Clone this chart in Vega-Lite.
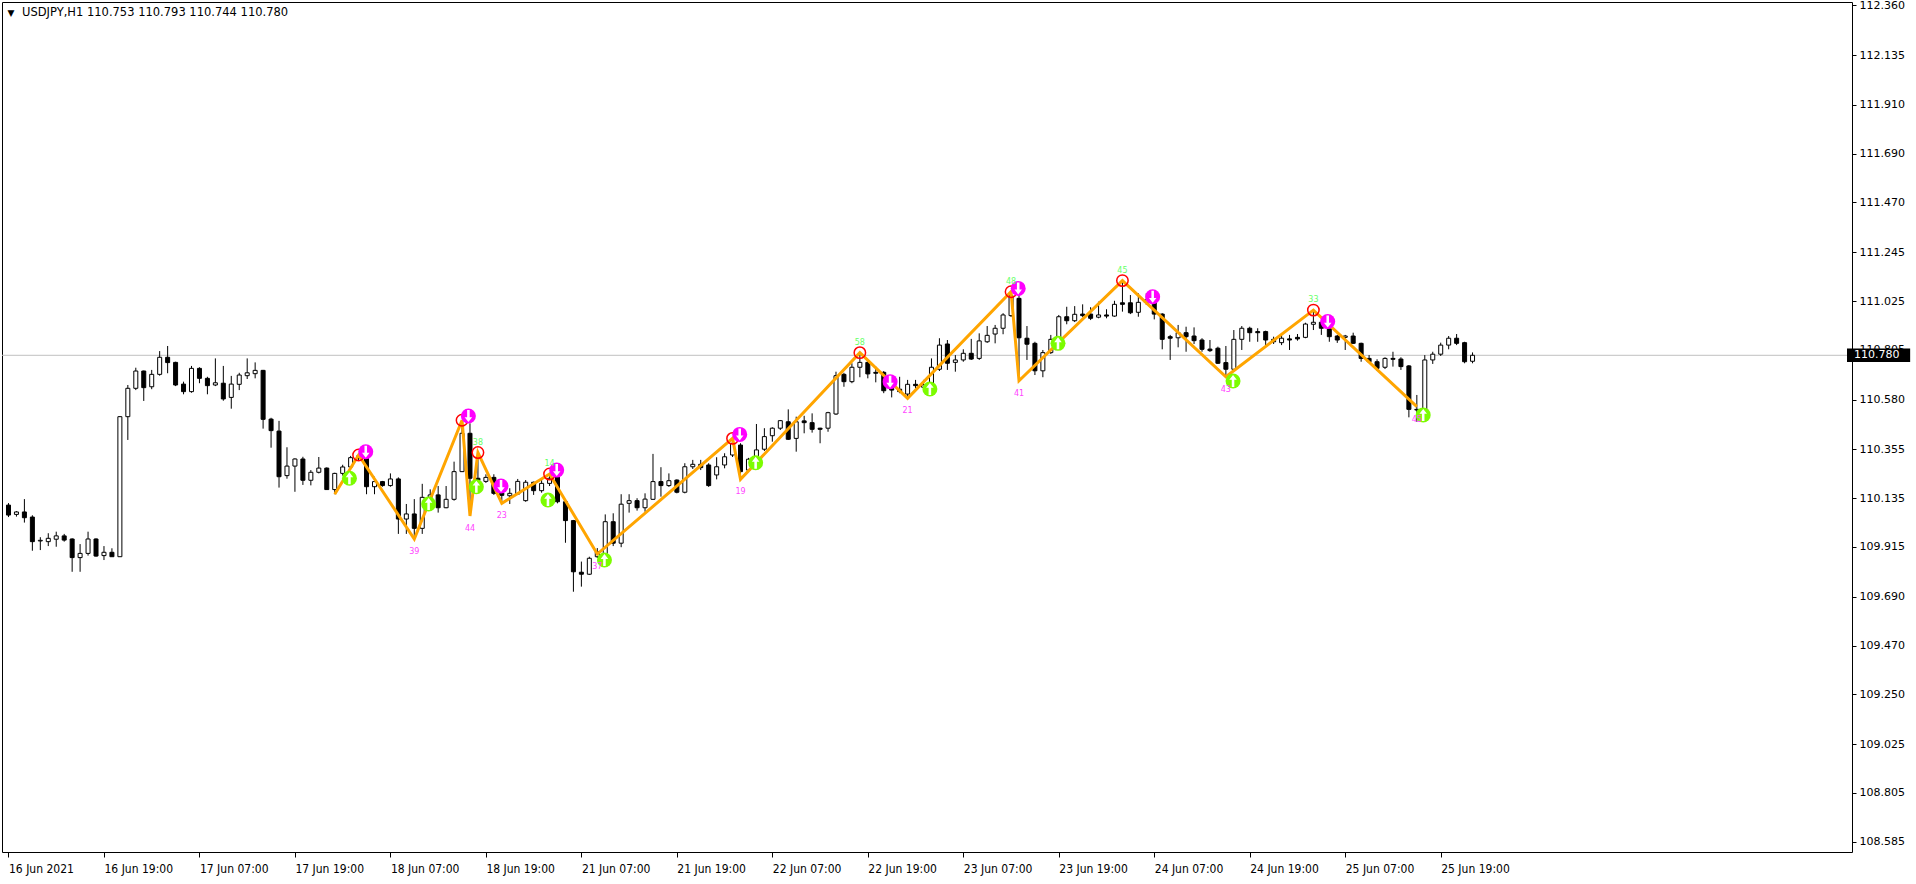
{
"$schema": "https://vega.github.io/schema/vega-lite/v6.json",
"width": 1850, "height": 850,
"autosize": {"type": "none"},
"padding": {"left": 2, "top": 2, "right": 64, "bottom": 32},
"background": "white",
"config": {
 "view": {"stroke": "black", "strokeWidth": 1},
 "axisX": {"labelFont": "DejaVu Sans Condensed", "labelFontSize": 12, "labelColor": "black", "tickColor": "black", "tickSize": 5, "domain": false, "grid": false, "labelAlign": "left", "labelPadding": 6, "labelBaseline": "top", "labelFlush": false, "labelOverlap": false, "labelBound": false},
 "axisY": {"labelFont": "DejaVu Sans", "labelFontSize": 11, "labelColor": "black", "tickColor": "black", "tickSize": 4, "domain": false, "grid": false, "labelPadding": 3, "labelBaseline": "middle", "labelOverlap": false, "labelBound": false, "labelFlush": false}
},
"datasets": {
 "candles": [
{"i":0,"o":110.104,"h":110.113,"l":110.050,"c":110.059},
{"i":1,"o":110.062,"h":110.077,"l":110.052,"c":110.073},
{"i":2,"o":110.073,"h":110.131,"l":110.025,"c":110.047},
{"i":3,"o":110.050,"h":110.058,"l":109.898,"c":109.939},
{"i":4,"o":109.942,"h":109.959,"l":109.901,"c":109.945},
{"i":5,"o":109.939,"h":109.977,"l":109.919,"c":109.954},
{"i":6,"o":109.950,"h":109.984,"l":109.916,"c":109.965},
{"i":7,"o":109.965,"h":109.974,"l":109.939,"c":109.946},
{"i":8,"o":109.951,"h":109.954,"l":109.803,"c":109.867},
{"i":9,"o":109.867,"h":109.928,"l":109.803,"c":109.886},
{"i":10,"o":109.886,"h":109.984,"l":109.876,"c":109.951},
{"i":11,"o":109.951,"h":109.954,"l":109.871,"c":109.874},
{"i":12,"o":109.876,"h":109.919,"l":109.856,"c":109.891},
{"i":13,"o":109.891,"h":109.909,"l":109.871,"c":109.871},
{"i":14,"o":109.871,"h":110.506,"l":109.870,"c":110.503},
{"i":15,"o":110.503,"h":110.646,"l":110.398,"c":110.631},
{"i":16,"o":110.631,"h":110.724,"l":110.623,"c":110.709},
{"i":17,"o":110.709,"h":110.711,"l":110.574,"c":110.634},
{"i":18,"o":110.638,"h":110.714,"l":110.627,"c":110.694},
{"i":19,"o":110.694,"h":110.799,"l":110.688,"c":110.771},
{"i":20,"o":110.771,"h":110.822,"l":110.699,"c":110.747},
{"i":21,"o":110.748,"h":110.751,"l":110.641,"c":110.646},
{"i":22,"o":110.650,"h":110.661,"l":110.604,"c":110.616},
{"i":23,"o":110.616,"h":110.732,"l":110.611,"c":110.721},
{"i":24,"o":110.721,"h":110.726,"l":110.654,"c":110.676},
{"i":25,"o":110.676,"h":110.683,"l":110.604,"c":110.643},
{"i":26,"o":110.646,"h":110.766,"l":110.641,"c":110.656},
{"i":27,"o":110.654,"h":110.732,"l":110.575,"c":110.583},
{"i":28,"o":110.590,"h":110.687,"l":110.539,"c":110.650},
{"i":29,"o":110.649,"h":110.701,"l":110.623,"c":110.691},
{"i":30,"o":110.688,"h":110.766,"l":110.673,"c":110.701},
{"i":31,"o":110.697,"h":110.748,"l":110.676,"c":110.712},
{"i":32,"o":110.712,"h":110.714,"l":110.449,"c":110.491},
{"i":33,"o":110.492,"h":110.498,"l":110.363,"c":110.440},
{"i":34,"o":110.438,"h":110.484,"l":110.183,"c":110.232},
{"i":35,"o":110.237,"h":110.365,"l":110.223,"c":110.280},
{"i":36,"o":110.280,"h":110.315,"l":110.164,"c":110.312},
{"i":37,"o":110.312,"h":110.322,"l":110.195,"c":110.216},
{"i":38,"o":110.216,"h":110.262,"l":110.193,"c":110.252},
{"i":39,"o":110.252,"h":110.321,"l":110.247,"c":110.271},
{"i":40,"o":110.271,"h":110.274,"l":110.174,"c":110.174},
{"i":41,"o":110.174,"h":110.250,"l":110.153,"c":110.247},
{"i":42,"o":110.247,"h":110.286,"l":110.237,"c":110.276},
{"i":43,"o":110.276,"h":110.326,"l":110.271,"c":110.318},
{"i":44,"o":110.318,"h":110.330,"l":110.305,"c":110.326},
{"i":45,"o":110.326,"h":110.328,"l":110.153,"c":110.187},
{"i":46,"o":110.187,"h":110.232,"l":110.153,"c":110.210},
{"i":47,"o":110.210,"h":110.213,"l":110.187,"c":110.192},
{"i":48,"o":110.192,"h":110.247,"l":110.187,"c":110.222},
{"i":49,"o":110.222,"h":110.229,"l":109.974,"c":110.041},
{"i":50,"o":110.041,"h":110.109,"l":109.974,"c":110.064},
{"i":51,"o":110.064,"h":110.131,"l":109.951,"c":109.999},
{"i":52,"o":109.999,"h":110.200,"l":109.974,"c":110.139},
{"i":53,"o":110.139,"h":110.175,"l":110.105,"c":110.150},
{"i":54,"o":110.150,"h":110.190,"l":110.070,"c":110.092},
{"i":55,"o":110.092,"h":110.190,"l":110.090,"c":110.130},
{"i":56,"o":110.130,"h":110.300,"l":110.124,"c":110.255},
{"i":57,"o":110.255,"h":110.487,"l":110.253,"c":110.428},
{"i":58,"o":110.428,"h":110.473,"l":110.055,"c":110.225},
{"i":59,"o":110.225,"h":110.341,"l":110.190,"c":110.215},
{"i":60,"o":110.211,"h":110.243,"l":110.204,"c":110.229},
{"i":61,"o":110.229,"h":110.243,"l":110.150,"c":110.157},
{"i":62,"o":110.160,"h":110.181,"l":110.112,"c":110.148},
{"i":63,"o":110.146,"h":110.180,"l":110.109,"c":110.157},
{"i":64,"o":110.154,"h":110.222,"l":110.150,"c":110.211},
{"i":65,"o":110.124,"h":110.217,"l":110.119,"c":110.207},
{"i":66,"o":110.207,"h":110.210,"l":110.150,"c":110.169},
{"i":67,"o":110.169,"h":110.225,"l":110.160,"c":110.202},
{"i":68,"o":110.202,"h":110.244,"l":110.190,"c":110.225},
{"i":69,"o":110.232,"h":110.240,"l":110.112,"c":110.119},
{"i":70,"o":110.119,"h":110.127,"l":109.934,"c":110.034},
{"i":71,"o":110.034,"h":110.037,"l":109.713,"c":109.803},
{"i":72,"o":109.801,"h":109.849,"l":109.736,"c":109.792},
{"i":73,"o":109.792,"h":109.871,"l":109.789,"c":109.864},
{"i":74,"o":109.871,"h":109.910,"l":109.865,"c":109.894},
{"i":75,"o":109.864,"h":110.062,"l":109.856,"c":110.029},
{"i":76,"o":110.029,"h":110.067,"l":109.919,"c":109.932},
{"i":77,"o":109.932,"h":110.153,"l":109.914,"c":110.108},
{"i":78,"o":110.112,"h":110.153,"l":110.070,"c":110.124},
{"i":79,"o":110.124,"h":110.135,"l":110.079,"c":110.092},
{"i":80,"o":110.092,"h":110.157,"l":110.074,"c":110.131},
{"i":81,"o":110.130,"h":110.335,"l":110.127,"c":110.210},
{"i":82,"o":110.210,"h":110.275,"l":110.142,"c":110.192},
{"i":83,"o":110.192,"h":110.247,"l":110.186,"c":110.214},
{"i":84,"o":110.217,"h":110.220,"l":110.157,"c":110.162},
{"i":85,"o":110.162,"h":110.293,"l":110.157,"c":110.277},
{"i":86,"o":110.277,"h":110.308,"l":110.267,"c":110.288},
{"i":87,"o":110.288,"h":110.308,"l":110.262,"c":110.273},
{"i":88,"o":110.285,"h":110.293,"l":110.186,"c":110.192},
{"i":89,"o":110.240,"h":110.320,"l":110.220,"c":110.277},
{"i":90,"o":110.285,"h":110.338,"l":110.270,"c":110.322},
{"i":91,"o":110.330,"h":110.405,"l":110.321,"c":110.383},
{"i":92,"o":110.375,"h":110.383,"l":110.220,"c":110.255},
{"i":93,"o":110.262,"h":110.317,"l":110.253,"c":110.311},
{"i":94,"o":110.311,"h":110.470,"l":110.307,"c":110.353},
{"i":95,"o":110.356,"h":110.451,"l":110.348,"c":110.413},
{"i":96,"o":110.417,"h":110.455,"l":110.390,"c":110.451},
{"i":97,"o":110.451,"h":110.488,"l":110.443,"c":110.485},
{"i":98,"o":110.480,"h":110.536,"l":110.398,"c":110.401},
{"i":99,"o":110.405,"h":110.503,"l":110.345,"c":110.480},
{"i":100,"o":110.484,"h":110.507,"l":110.428,"c":110.476},
{"i":101,"o":110.476,"h":110.518,"l":110.431,"c":110.446},
{"i":102,"o":110.451,"h":110.453,"l":110.383,"c":110.446},
{"i":103,"o":110.451,"h":110.525,"l":110.435,"c":110.521},
{"i":104,"o":110.515,"h":110.706,"l":110.511,"c":110.688},
{"i":105,"o":110.694,"h":110.701,"l":110.638,"c":110.661},
{"i":106,"o":110.661,"h":110.744,"l":110.654,"c":110.726},
{"i":107,"o":110.726,"h":110.792,"l":110.681,"c":110.748},
{"i":108,"o":110.748,"h":110.759,"l":110.676,"c":110.696},
{"i":109,"o":110.703,"h":110.729,"l":110.658,"c":110.699},
{"i":110,"o":110.703,"h":110.709,"l":110.609,"c":110.620},
{"i":111,"o":110.631,"h":110.654,"l":110.590,"c":110.623},
{"i":112,"o":110.627,"h":110.683,"l":110.609,"c":110.616},
{"i":113,"o":110.605,"h":110.669,"l":110.586,"c":110.649},
{"i":114,"o":110.649,"h":110.669,"l":110.631,"c":110.643},
{"i":115,"o":110.636,"h":110.669,"l":110.623,"c":110.646},
{"i":116,"o":110.646,"h":110.766,"l":110.609,"c":110.726},
{"i":117,"o":110.717,"h":110.857,"l":110.709,"c":110.826},
{"i":118,"o":110.831,"h":110.849,"l":110.714,"c":110.744},
{"i":119,"o":110.748,"h":110.781,"l":110.706,"c":110.759},
{"i":120,"o":110.759,"h":110.807,"l":110.751,"c":110.789},
{"i":121,"o":110.789,"h":110.854,"l":110.759,"c":110.763},
{"i":122,"o":110.766,"h":110.879,"l":110.759,"c":110.845},
{"i":123,"o":110.841,"h":110.912,"l":110.836,"c":110.870},
{"i":124,"o":110.876,"h":110.917,"l":110.834,"c":110.902},
{"i":125,"o":110.902,"h":110.970,"l":110.875,"c":110.962},
{"i":126,"o":110.959,"h":111.067,"l":110.953,"c":111.049},
{"i":127,"o":111.037,"h":111.060,"l":110.665,"c":110.859},
{"i":128,"o":110.857,"h":110.912,"l":110.759,"c":110.830},
{"i":129,"o":110.834,"h":110.841,"l":110.691,"c":110.710},
{"i":130,"o":110.710,"h":110.804,"l":110.681,"c":110.792},
{"i":131,"o":110.792,"h":110.872,"l":110.786,"c":110.852},
{"i":132,"o":110.852,"h":110.962,"l":110.840,"c":110.954},
{"i":133,"o":110.954,"h":110.999,"l":110.920,"c":110.936},
{"i":134,"o":110.936,"h":111.002,"l":110.930,"c":110.965},
{"i":135,"o":110.966,"h":111.010,"l":110.953,"c":110.959},
{"i":136,"o":110.966,"h":110.997,"l":110.939,"c":110.947},
{"i":137,"o":110.952,"h":111.022,"l":110.947,"c":110.962},
{"i":138,"o":110.962,"h":110.988,"l":110.947,"c":110.957},
{"i":139,"o":110.957,"h":111.026,"l":110.954,"c":111.010},
{"i":140,"o":111.017,"h":111.117,"l":110.977,"c":111.010},
{"i":141,"o":111.017,"h":111.052,"l":110.966,"c":110.972},
{"i":142,"o":110.974,"h":111.060,"l":110.954,"c":111.019},
{"i":143,"o":111.019,"h":111.060,"l":111.007,"c":111.030},
{"i":144,"o":111.022,"h":111.030,"l":110.942,"c":110.966},
{"i":145,"o":110.966,"h":110.970,"l":110.807,"c":110.852},
{"i":146,"o":110.864,"h":110.872,"l":110.759,"c":110.857},
{"i":147,"o":110.859,"h":110.917,"l":110.816,"c":110.882},
{"i":148,"o":110.882,"h":110.909,"l":110.796,"c":110.864},
{"i":149,"o":110.867,"h":110.906,"l":110.831,"c":110.846},
{"i":150,"o":110.849,"h":110.857,"l":110.796,"c":110.807},
{"i":151,"o":110.808,"h":110.849,"l":110.795,"c":110.801},
{"i":152,"o":110.812,"h":110.819,"l":110.741,"c":110.744},
{"i":153,"o":110.747,"h":110.822,"l":110.683,"c":110.717},
{"i":154,"o":110.717,"h":110.894,"l":110.714,"c":110.852},
{"i":155,"o":110.852,"h":110.912,"l":110.804,"c":110.902},
{"i":156,"o":110.902,"h":110.909,"l":110.841,"c":110.882},
{"i":157,"o":110.887,"h":110.902,"l":110.841,"c":110.882},
{"i":158,"o":110.887,"h":110.891,"l":110.826,"c":110.849},
{"i":159,"o":110.852,"h":110.864,"l":110.831,"c":110.841},
{"i":160,"o":110.837,"h":110.872,"l":110.826,"c":110.857},
{"i":161,"o":110.854,"h":110.872,"l":110.804,"c":110.849},
{"i":162,"o":110.861,"h":110.876,"l":110.846,"c":110.854},
{"i":163,"o":110.861,"h":110.927,"l":110.857,"c":110.921},
{"i":164,"o":110.920,"h":110.984,"l":110.894,"c":110.929},
{"i":165,"o":110.929,"h":110.939,"l":110.872,"c":110.902},
{"i":166,"o":110.902,"h":110.909,"l":110.841,"c":110.864},
{"i":167,"o":110.867,"h":110.872,"l":110.836,"c":110.849},
{"i":168,"o":110.861,"h":110.872,"l":110.804,"c":110.867},
{"i":169,"o":110.867,"h":110.882,"l":110.831,"c":110.834},
{"i":170,"o":110.834,"h":110.837,"l":110.751,"c":110.766},
{"i":171,"o":110.766,"h":110.781,"l":110.750,"c":110.751},
{"i":172,"o":110.751,"h":110.762,"l":110.710,"c":110.721},
{"i":173,"o":110.726,"h":110.771,"l":110.718,"c":110.766},
{"i":174,"o":110.766,"h":110.796,"l":110.729,"c":110.762},
{"i":175,"o":110.763,"h":110.771,"l":110.714,"c":110.729},
{"i":176,"o":110.732,"h":110.736,"l":110.500,"c":110.536},
{"i":177,"o":110.536,"h":110.601,"l":110.480,"c":110.533},
{"i":178,"o":110.533,"h":110.781,"l":110.521,"c":110.759},
{"i":179,"o":110.759,"h":110.796,"l":110.741,"c":110.785},
{"i":180,"o":110.785,"h":110.837,"l":110.777,"c":110.826},
{"i":181,"o":110.826,"h":110.867,"l":110.807,"c":110.857},
{"i":182,"o":110.857,"h":110.876,"l":110.826,"c":110.834},
{"i":183,"o":110.837,"h":110.841,"l":110.744,"c":110.751},
{"i":184,"o":110.753,"h":110.793,"l":110.744,"c":110.780}
 ],
 "zigzag": [
{"i":41,"p":110.153,"kind":"start"},
{"i":44,"p":110.330,"kind":"peak"},
{"i":51,"p":109.951,"kind":"low","lab":"39"},
{"i":57,"p":110.487,"kind":"peak"},
{"i":58,"p":110.055,"kind":"low","lab":"44"},
{"i":59,"p":110.341,"kind":"peak","lab":"38"},
{"i":62,"p":110.112,"kind":"low","lab":"23"},
{"i":68,"p":110.244,"kind":"peak","lab":"14"},
{"i":74,"p":109.883,"kind":"low","lab":"37"},
{"i":91,"p":110.405,"kind":"peak"},
{"i":92,"p":110.220,"kind":"low","lab":"19"},
{"i":107,"p":110.792,"kind":"peak","lab":"58"},
{"i":113,"p":110.586,"kind":"low","lab":"21"},
{"i":126,"p":111.067,"kind":"peak","lab":"48"},
{"i":127,"p":110.665,"kind":"low","lab":"41"},
{"i":140,"p":111.117,"kind":"peak","lab":"45"},
{"i":153,"p":110.683,"kind":"low","lab":"43"},
{"i":164,"p":110.984,"kind":"peak","lab":"33"},
{"i":177,"p":110.548,"kind":"low","lab":"45"}
 ],
 "buy": [
{"i":42.85,"p":110.225},{"i":52.8,"p":110.109},{"i":58.8,"p":110.187},{"i":67.8,"p":110.127},{"i":74.9,"p":109.856},
{"i":93.9,"p":110.295},{"i":115.8,"p":110.628},{"i":131.9,"p":110.834},{"i":153.9,"p":110.664},{"i":177.8,"p":110.511}
 ],
 "sell": [
{"i":44.9,"p":110.345},{"i":57.8,"p":110.506},{"i":61.9,"p":110.190},{"i":68.9,"p":110.262},{"i":91.9,"p":110.423},
{"i":110.8,"p":110.661},{"i":126.9,"p":111.082},{"i":143.8,"p":111.044},{"i":165.8,"p":110.932}
 ],
 "info": [{"symbol":"USDJPY,H1  110.753 110.793 110.744 110.780","last":110.78,"lastText":"110.780"}]
},
"layer": [
 {"data": {"name": "info"}, "mark": {"type": "rule", "color": "#C0C0C0", "strokeWidth": 1},
  "encoding": {"y": {"field": "last", "type": "quantitative", "title": null}}},
 {"data": {"name": "candles"}, "mark": {"type": "rule", "color": "black", "strokeWidth": 1},
  "encoding": {
   "x": {"field": "i", "type": "quantitative", "title": null,
         "scale": {"domain": [-0.1875, 231.0625], "nice": false, "zero": false},
         "axis": {"values": [0,12,24,36,48,60,72,84,96,108,120,132,144,156,168,180],
                  "labelExpr": "['16 Jun 2021','16 Jun 19:00','17 Jun 07:00','17 Jun 19:00','18 Jun 07:00','18 Jun 19:00','21 Jun 07:00','21 Jun 19:00','22 Jun 07:00','22 Jun 19:00','23 Jun 07:00','23 Jun 19:00','24 Jun 07:00','24 Jun 19:00','25 Jun 07:00','25 Jun 19:00'][round(datum.value/12)]"}},
   "y": {"field": "l", "type": "quantitative", "title": null,
         "scale": {"domain": [108.5384, 112.3744], "nice": false, "zero": false},
         "axis": {"orient": "right", "format": ".3f",
                  "values": [112.36,112.135,111.91,111.69,111.47,111.245,111.025,110.805,110.58,110.355,110.135,109.915,109.69,109.47,109.25,109.025,108.805,108.585]}},
   "y2": {"field": "h"}
  }},
 {"data": {"name": "candles"}, "mark": {"type": "bar", "size": 4, "stroke": "black", "strokeWidth": 1},
  "encoding": {
   "x": {"field": "i", "type": "quantitative", "title": null},
   "y": {"field": "o", "type": "quantitative", "title": null},
   "y2": {"field": "c"},
   "fill": {"condition": {"test": "datum.c >= datum.o", "value": "white"}, "value": "black"}
  }},
 {"data": {"name": "zigzag"}, "mark": {"type": "line", "color": "#FFA500", "strokeWidth": 3, "strokeJoin": "miter"},
  "encoding": {
   "x": {"field": "i", "type": "quantitative", "title": null},
   "y": {"field": "p", "type": "quantitative", "title": null}
  }},
 {"data": {"name": "zigzag"}, "transform": [{"filter": "datum.kind == 'peak'"}],
  "mark": {"type": "point", "shape": "circle", "filled": false, "stroke": "#FF0000", "strokeWidth": 1.5, "size": 130, "opacity": 1},
  "encoding": {
   "x": {"field": "i", "type": "quantitative", "title": null},
   "y": {"field": "p", "type": "quantitative", "title": null}
  }},
 {"data": {"name": "buy"}, "mark": {"type": "point", "shape": "circle", "filled": true, "color": "#7CFC00", "size": 225, "opacity": 1},
  "encoding": {
   "x": {"field": "i", "type": "quantitative", "title": null},
   "y": {"field": "p", "type": "quantitative", "title": null}
  }},
 {"data": {"name": "buy"}, "mark": {"type": "point", "shape": "M0,-0.8L0.5,-0.15L0.17,-0.15L0.17,0.8L-0.17,0.8L-0.17,-0.15L-0.5,-0.15Z", "filled": true, "color": "white", "size": 225, "opacity": 1},
  "encoding": {
   "x": {"field": "i", "type": "quantitative", "title": null},
   "y": {"field": "p", "type": "quantitative", "title": null}
  }},
 {"data": {"name": "sell"}, "mark": {"type": "point", "shape": "circle", "filled": true, "color": "#FF00FF", "size": 225, "opacity": 1},
  "encoding": {
   "x": {"field": "i", "type": "quantitative", "title": null},
   "y": {"field": "p", "type": "quantitative", "title": null}
  }},
 {"data": {"name": "sell"}, "mark": {"type": "point", "shape": "M0,0.8L0.5,0.15L0.17,0.15L0.17,-0.8L-0.17,-0.8L-0.17,0.15L-0.5,0.15Z", "filled": true, "color": "white", "size": 225, "opacity": 1},
  "encoding": {
   "x": {"field": "i", "type": "quantitative", "title": null},
   "y": {"field": "p", "type": "quantitative", "title": null}
  }},
 {"data": {"name": "zigzag"}, "transform": [{"filter": "datum.kind == 'low' && isValid(datum.lab)"}],
  "mark": {"type": "text", "color": "#FF44FF", "font": "DejaVu Sans", "fontSize": 8, "dy": 13, "baseline": "middle"},
  "encoding": {
   "x": {"field": "i", "type": "quantitative", "title": null},
   "y": {"field": "p", "type": "quantitative", "title": null},
   "text": {"field": "lab"}
  }},
 {"data": {"name": "zigzag"}, "transform": [{"filter": "datum.kind == 'peak' && isValid(datum.lab)"}],
  "mark": {"type": "text", "color": "#66FF66", "font": "DejaVu Sans", "fontSize": 8, "dy": -10, "baseline": "middle"},
  "encoding": {
   "x": {"field": "i", "type": "quantitative", "title": null},
   "y": {"field": "p", "type": "quantitative", "title": null},
   "text": {"field": "lab"}
  }},
 {"data": {"name": "info"}, "mark": {"type": "text", "color": "black", "font": "DejaVu Sans", "fontSize": 9, "align": "center", "baseline": "middle", "dx": 4, "dy": 11},
  "encoding": {
   "x": {"datum": -0.1875, "type": "quantitative", "title": null},
   "y": {"datum": 112.3744, "type": "quantitative", "title": null},
   "text": {"value": "▼"}
  }},
 {"data": {"name": "info"}, "mark": {"type": "text", "color": "black", "font": "DejaVu Sans", "fontSize": 11.5, "align": "left", "baseline": "middle", "dx": 15, "dy": 11},
  "encoding": {
   "x": {"datum": -0.1875, "type": "quantitative", "title": null},
   "y": {"datum": 112.3744, "type": "quantitative", "title": null},
   "text": {"field": "symbol"}
  }},
 {"data": {"name": "info"}, "mark": {"type": "rect", "color": "black", "clip": false},
  "encoding": {
   "x": {"datum": 231.0625, "type": "quantitative", "title": null},
   "x2": {"datum": 239.0},
   "y": {"datum": 110.8105, "type": "quantitative", "title": null},
   "y2": {"datum": 110.7495}
  }},
 {"data": {"name": "info"}, "mark": {"type": "text", "color": "white", "font": "DejaVu Sans", "fontSize": 11, "align": "left", "baseline": "middle", "dx": 7},
  "encoding": {
   "x": {"datum": 231.0625, "type": "quantitative", "title": null},
   "y": {"field": "last", "type": "quantitative", "title": null},
   "text": {"field": "lastText"}
  }}
]
}
